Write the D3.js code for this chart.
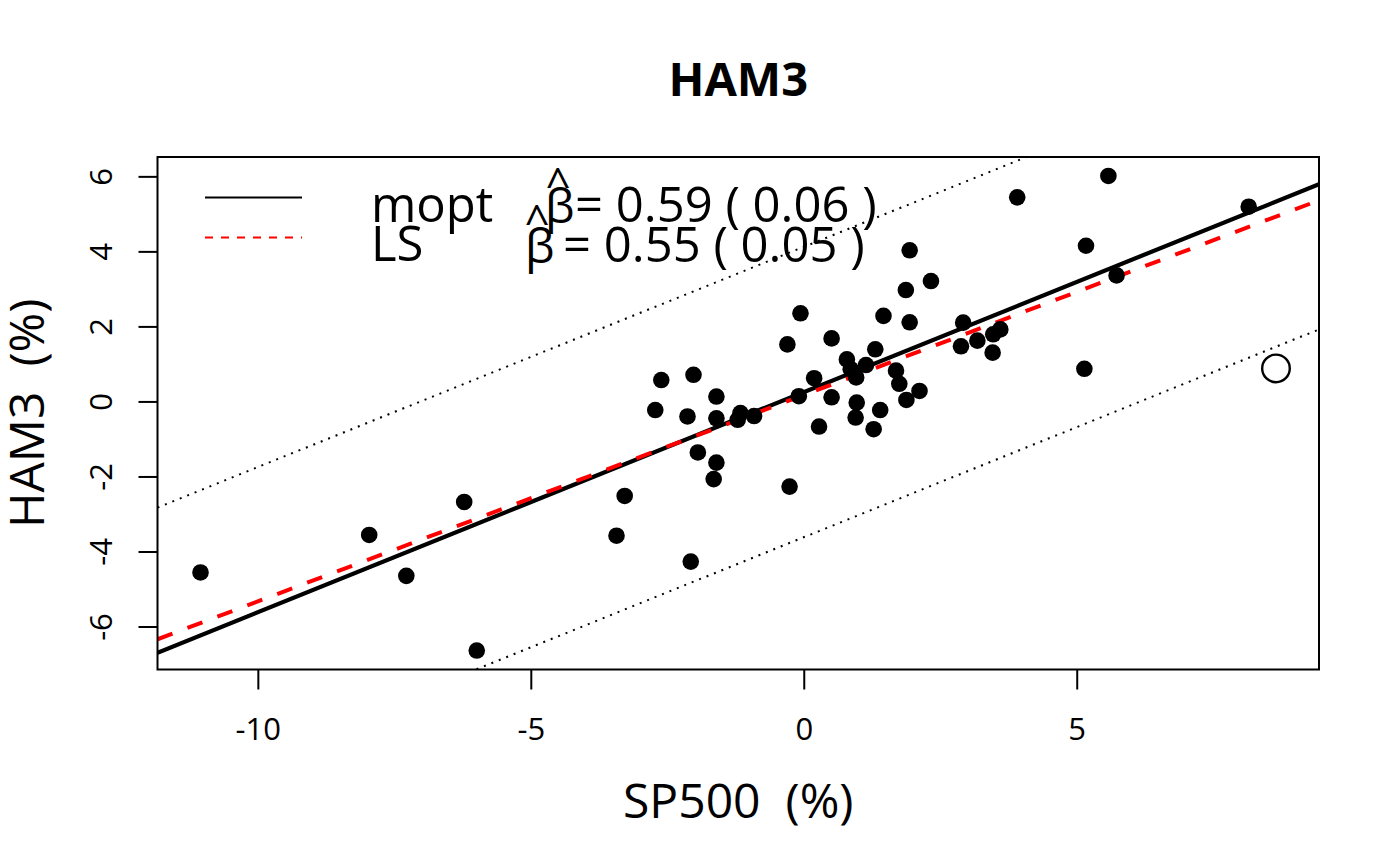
<!DOCTYPE html>
<html>
<head>
<meta charset="utf-8">
<script src="https://cdnjs.cloudflare.com/ajax/libs/d3/7.8.5/d3.min.js"></script>
<style>
  body { margin: 0; background: #fff; }
  text { font-family: "Open Sans", sans-serif; fill: #000; }
</style>
</head>
<body>
<div id="plot"></div>
<script>
// monthly returns (%)
var sp500 = [-11.05, -7.96, -7.28, -6.22, -5.99, -3.28, -3.43, -2.07, -1.65, -1.60,
  -1.94, -2.61, -2.02, -2.72, -2.13, -1.60, -1.60, -1.16, -1.21, -0.91,
  -0.26, -0.30, -0.06, 0.19, -0.09, 0.28, 0.51, 0.51, 0.79, 0.86,
  0.96, 1.14, 0.97, 0.95, 1.40, 1.28, 1.31, 1.46, 1.69, 1.75,
  1.88, 2.12, 1.87, 1.94, 1.94, 2.33, 2.92, 2.88, 3.18, 3.46,
  3.47, 3.60, 3.91, 5.14, 5.17, 5.58, 5.73, 8.15];
var ham3 = [-4.56, -3.56, -4.65, -2.68, -6.64, -2.52, -3.58, -4.27, -2.07, -1.63,
  -1.36, 0.57, 0.71, -0.23, -0.40, 0.13, -0.45, -0.31, -0.49, -0.39,
  -2.27, 1.52, 2.35, 0.62, 0.14, -0.67, 0.11, 1.68, 1.12, 0.86,
  0.64, 0.97, -0.03, -0.43, -0.23, -0.74, 1.39, 2.28, 0.82, 0.47,
  0.04, 0.28, 2.97, 4.03, 2.11, 3.21, 2.10, 1.47, 1.62, 1.30,
  1.79, 1.92, 5.44, 0.87, 4.15, 6.01, 3.36, 5.19];

// the one flagged point (open circle)
var outlierX = [8.65];
var outlierY = [0.88];

// [intercept, slope]
var moptFit = [0.25, 0.587];
var lsFit = [0.17, 0.55];
var bandHalf = 3.87;

var xTicks = [-10, -5, 0, 5];
var yTicks = [-6, -4, -2, 0, 2, 4, 6];

var legendNames = ["mopt", "LS"];
var legendBeta = ["0.59", "0.55"];
var legendSe = ["0.06", "0.05"];

var svgWidth = 1400;
var svgHeight = 866;

var margin = {
  top: 157,
  right: 81,
  bottom: 196.5,
  left: 157.5
};

var width = svgWidth - margin.left - margin.right;
var height = svgHeight - margin.top - margin.bottom;

var svg = d3.select("#plot")
  .append("svg")
  .attr("width", svgWidth)
  .attr("height", svgHeight);

var chartGroup = svg.append("g")
  .attr("transform", `translate(${margin.left}, ${margin.top})`);

// R pads the data range by 4% on each side
function padRange(values) {
  var ext = d3.extent(values);
  var pad = (ext[1] - ext[0]) * 0.04;
  return [ext[0] - pad, ext[1] + pad];
}

var xScale = d3.scaleLinear()
  .domain(padRange(sp500.concat(outlierX)))
  .range([0, width]);

var yScale = d3.scaleLinear()
  .domain(padRange(ham3.concat(outlierY)))
  .range([height, 0]);

// axes
var xAxis = chartGroup.append("g")
  .attr("transform", `translate(0, ${height})`)
  .call(d3.axisBottom(xScale)
    .tickValues(xTicks)
    .tickSize(20)
    .tickPadding(28)
    .tickFormat(d => String(d)));
xAxis.select(".domain").remove();
xAxis.attr("font-size", 31).attr("font-family", "Open Sans");
xAxis.selectAll("line").attr("stroke-width", 2);

var yAxis = chartGroup.append("g")
  .call(d3.axisLeft(yScale)
    .tickValues(yTicks)
    .tickSize(19)
    .tickFormat(d => String(d)));
yAxis.select(".domain").remove();
yAxis.attr("font-size", 31).attr("font-family", "Open Sans");
yAxis.selectAll("line").attr("stroke-width", 2);
yAxis.selectAll("text")
  .attr("x", 0)
  .attr("dy", null)
  .attr("text-anchor", "middle")
  .attr("transform", "translate(-45.5, 0) rotate(-90)");

// clip lines to the plot region
chartGroup.append("clipPath")
  .attr("id", "plotClip")
  .append("rect")
  .attr("width", width)
  .attr("height", height);

var lineLayer = chartGroup.append("g")
  .attr("clip-path", "url(#plotClip)");

var xDom = xScale.domain();

function addLine(a, b, color, lw, dash) {
  var ln = lineLayer.append("line")
    .attr("x1", xScale(xDom[0]))
    .attr("y1", yScale(a + b * xDom[0]))
    .attr("x2", xScale(xDom[1]))
    .attr("y2", yScale(a + b * xDom[1]))
    .attr("stroke", color)
    .attr("stroke-width", lw);
  if (dash) ln.attr("stroke-dasharray", dash);
  return ln;
}

addLine(moptFit[0] + bandHalf, moptFit[1], "#000", 2, "2,6");
addLine(moptFit[0] - bandHalf, moptFit[1], "#000", 2, "2,6");

// points
chartGroup.selectAll("circle.pt")
  .data(d3.zip(sp500, ham3))
  .enter()
  .append("circle")
  .attr("class", "pt")
  .attr("cx", d => xScale(d[0]))
  .attr("cy", d => yScale(d[1]))
  .attr("r", 8.3)
  .attr("fill", "#000");

chartGroup.selectAll("circle.out")
  .data(d3.zip(outlierX, outlierY))
  .enter()
  .append("circle")
  .attr("class", "out")
  .attr("cx", d => xScale(d[0]))
  .attr("cy", d => yScale(d[1]))
  .attr("r", 13.8)
  .attr("fill", "none")
  .attr("stroke", "#000")
  .attr("stroke-width", 2.4);

addLine(moptFit[0], moptFit[1], "#000", 4.2);
addLine(lsFit[0], lsFit[1], "#ff0000", 4, "16,16");

// box
chartGroup.append("rect")
  .attr("width", width)
  .attr("height", height)
  .attr("fill", "none")
  .attr("stroke", "#000")
  .attr("stroke-width", 2);

// titles
svg.append("text")
  .attr("x", margin.left + width / 2)
  .attr("y", 96)
  .attr("text-anchor", "middle")
  .attr("font-size", 47)
  .attr("font-weight", "bold")
  .text("HAM3");

svg.append("text")
  .attr("x", margin.left + width / 2)
  .attr("y", 818)
  .attr("text-anchor", "middle")
  .attr("font-size", 48)
  .attr("xml:space", "preserve")
  .text("SP500  (%)");

svg.append("text")
  .attr("transform", `translate(44, ${margin.top + height / 2}) rotate(-90)`)
  .attr("text-anchor", "middle")
  .attr("font-size", 48)
  .attr("xml:space", "preserve")
  .text("HAM3  (%)");

// legend
var legendColors = ["#000", "#ff0000"];
var legendDash = [null, "8,8"];
var legendLineY = [197.5, 237.5];
var nameY = [222, 261];
var betaX = [545, 525];
var hatX = [558, 537];
var hatY = [200, 237];
var restX = [575, 563];
var restY = [222, 262];

legendNames.forEach(function(name, i) {
  var ln = svg.append("line")
    .attr("x1", 205)
    .attr("x2", 302)
    .attr("y1", legendLineY[i])
    .attr("y2", legendLineY[i])
    .attr("stroke", legendColors[i])
    .attr("stroke-width", 2);
  if (legendDash[i]) ln.attr("stroke-dasharray", legendDash[i]);

  svg.append("text")
    .attr("x", 371)
    .attr("y", nameY[i])
    .attr("font-size", 49)
    .text(name);

  svg.append("text")
    .attr("x", betaX[i])
    .attr("y", restY[i] + 1)
    .attr("font-size", 47)
    .text("\u03B2");

  svg.append("text")
    .attr("x", hatX[i])
    .attr("y", hatY[i])
    .attr("text-anchor", "middle")
    .attr("font-size", 44)
    .text("^");

  svg.append("text")
    .attr("x", restX[i])
    .attr("y", restY[i])
    .attr("font-size", 49)
    .attr("xml:space", "preserve")
    .text("= " + legendBeta[i] + " ( " + legendSe[i] + " )");
});
</script>
</body>
</html>
